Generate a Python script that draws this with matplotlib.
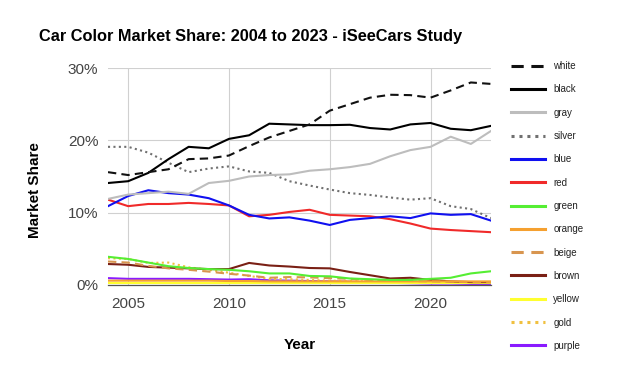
import matplotlib
matplotlib.use("Agg")
import matplotlib.pyplot as plt
from matplotlib.ticker import FuncFormatter

years = list(range(2004, 2024))

white  = [15.6, 15.2, 15.6, 16.0, 17.4, 17.5, 17.9, 19.2, 20.4, 21.3, 22.2, 24.1, 25.0, 25.9, 26.3, 26.25, 25.9, 26.9, 28.0, 27.8]
black  = [14.1, 14.35, 15.5, 17.4, 19.1, 18.9, 20.2, 20.7, 22.3, 22.2, 22.1, 22.1, 22.15, 21.7, 21.5, 22.2, 22.4, 21.6, 21.4, 22.0]
gray   = [11.9, 12.5, 12.7, 12.9, 12.6, 14.1, 14.4, 15.0, 15.2, 15.3, 15.8, 16.0, 16.3, 16.75, 17.8, 18.65, 19.1, 20.5, 19.5, 21.3]
silver = [19.1, 19.1, 18.3, 16.9, 15.6, 16.1, 16.4, 15.7, 15.5, 14.35, 13.75, 13.2, 12.7, 12.45, 12.1, 11.8, 12.0, 10.9, 10.5, 9.25]
blue   = [10.9, 12.3, 13.1, 12.7, 12.5, 12.0, 11.0, 9.7, 9.2, 9.35, 8.9, 8.3, 9.0, 9.25, 9.5, 9.25, 9.9, 9.7, 9.8, 8.9]
red    = [11.8, 10.9, 11.2, 11.2, 11.35, 11.2, 11.0, 9.5, 9.7, 10.1, 10.4, 9.7, 9.6, 9.5, 9.1, 8.5, 7.8, 7.6, 7.45, 7.3]
green  = [3.9, 3.6, 3.1, 2.6, 2.35, 2.2, 2.1, 1.9, 1.6, 1.6, 1.25, 1.2, 0.9, 0.8, 0.7, 0.7, 0.85, 1.0, 1.6, 1.9]
orange = [0.6, 0.6, 0.6, 0.6, 0.6, 0.6, 0.55, 0.55, 0.5, 0.5, 0.5, 0.5, 0.5, 0.5, 0.5, 0.5, 0.5, 0.5, 0.5, 0.5]
beige  = [3.25, 3.1, 2.65, 2.3, 2.1, 1.85, 1.55, 1.3, 1.0, 1.1, 1.05, 0.95, 0.85, 0.7, 0.6, 0.55, 0.5, 0.45, 0.4, 0.4]
brown  = [2.9, 2.8, 2.5, 2.4, 2.3, 2.2, 2.2, 3.05, 2.7, 2.55, 2.35, 2.3, 1.8, 1.35, 0.9, 1.0, 0.7, 0.5, 0.4, 0.4]
yellow = [0.3, 0.3, 0.3, 0.3, 0.3, 0.3, 0.3, 0.3, 0.3, 0.3, 0.3, 0.3, 0.3, 0.3, 0.3, 0.3, 0.3, 0.3, 0.3, 0.3]
gold   = [3.7, 3.6, 3.05, 3.1, 2.45, 2.1, 1.7, 1.25, 0.85, 0.8, 0.7, 0.6, 0.55, 0.5, 0.5, 0.45, 0.45, 0.4, 0.4, 0.4]
purple = [0.95, 0.85, 0.85, 0.85, 0.85, 0.8, 0.75, 0.8, 0.65, 0.6, 0.55, 0.5, 0.45, 0.35, 0.3, 0.25, 0.2, 0.2, 0.15, 0.15]

series_names = ["white", "black", "gray", "silver", "blue", "red", "green",
                "orange", "beige", "brown", "yellow", "gold", "purple"]
series_vals = [white, black, gray, silver, blue, red, green,
               orange, beige, brown, yellow, gold, purple]

styles = {
    "white":  dict(color="#111111", ls=(0, (4, 2.5))),
    "black":  dict(color="#000000", ls="-"),
    "gray":   dict(color="#bdbdbd", ls="-"),
    "silver": dict(color="#707070", ls=(0, (1, 1.6))),
    "blue":   dict(color="#1010f0", ls="-"),
    "red":    dict(color="#f02a2a", ls="-"),
    "green":  dict(color="#55ee33", ls="-"),
    "orange": dict(color="#f5a030", ls="-"),
    "beige":  dict(color="#d8954f", ls=(0, (4, 2.5))),
    "brown":  dict(color="#7a2015", ls="-"),
    "yellow": dict(color="#ffff30", ls="-"),
    "gold":   dict(color="#f0c040", ls=(0, (1, 1.6))),
    "purple": dict(color="#8a1aff", ls="-"),
}

plt.rcParams['font.family'] = ['Liberation Sans', 'DejaVu Sans']

W, H = 640, 376
fig = plt.figure(figsize=(W / 100, H / 100), dpi=100)
ax = fig.add_axes([108 / W, 1 - 285 / H, (491 - 108) / W, (285 - 68) / H])

lines = {}
for name, vals in reversed(list(zip(series_names, series_vals))):
    st = styles[name]
    ln, = ax.plot(years, vals, color=st["color"], linestyle=st["ls"], lw=1.5,
                  label=name, zorder=3, dash_capstyle="butt")
    lines[name] = ln

ax.set_xlim(2004, 2023)
ax.set_ylim(0, 30)
ax.set_xticks([2005, 2010, 2015, 2020])
ax.set_yticks([0, 10, 20, 30])
ax.yaxis.set_major_formatter(FuncFormatter(lambda v, p: f"{int(v)}%"))
ax.grid(True, color="#d0d0d0", lw=0.8, zorder=0)
for s in ["top", "right", "left"]:
    ax.spines[s].set_visible(False)
ax.spines["bottom"].set_color("#555555")
ax.spines["bottom"].set_linewidth(0.9)
ax.spines["bottom"].set_zorder(4)
ax.tick_params(length=0, labelsize=11, labelcolor="#444444")
ax.tick_params(axis="x", pad=9)
ax.tick_params(axis="y", pad=7)

fig.text(251 / W, 1 - 36 / H, "Car Color Market Share: 2004 to 2023 - iSeeCars Study",
         ha="center", va="center", fontsize=11.8, fontweight="bold", color="#000000")
fig.text(300 / W, 1 - 345 / H, "Year", ha="center", va="center",
         fontsize=11, fontweight="bold", color="#000000")
fig.text(35 / W, 1 - 190 / H, "Market Share", ha="center", va="center",
         rotation=90, fontsize=11, fontweight="bold", color="#000000")

handles = [lines[n] for n in series_names]
leg = fig.legend(handles, series_names, loc="upper left",
                 bbox_to_anchor=(511 / W, 1 - 61 / H), frameon=False,
                 fontsize=7, handlelength=3.5, handletextpad=0.85,
                 labelspacing=1.37, borderaxespad=0, borderpad=0)
for t in leg.get_texts():
    t.set_color("#222222")
for h in leg.get_lines():
    h.set_linewidth(2.2)

fig.savefig("out.png", dpi=100)
